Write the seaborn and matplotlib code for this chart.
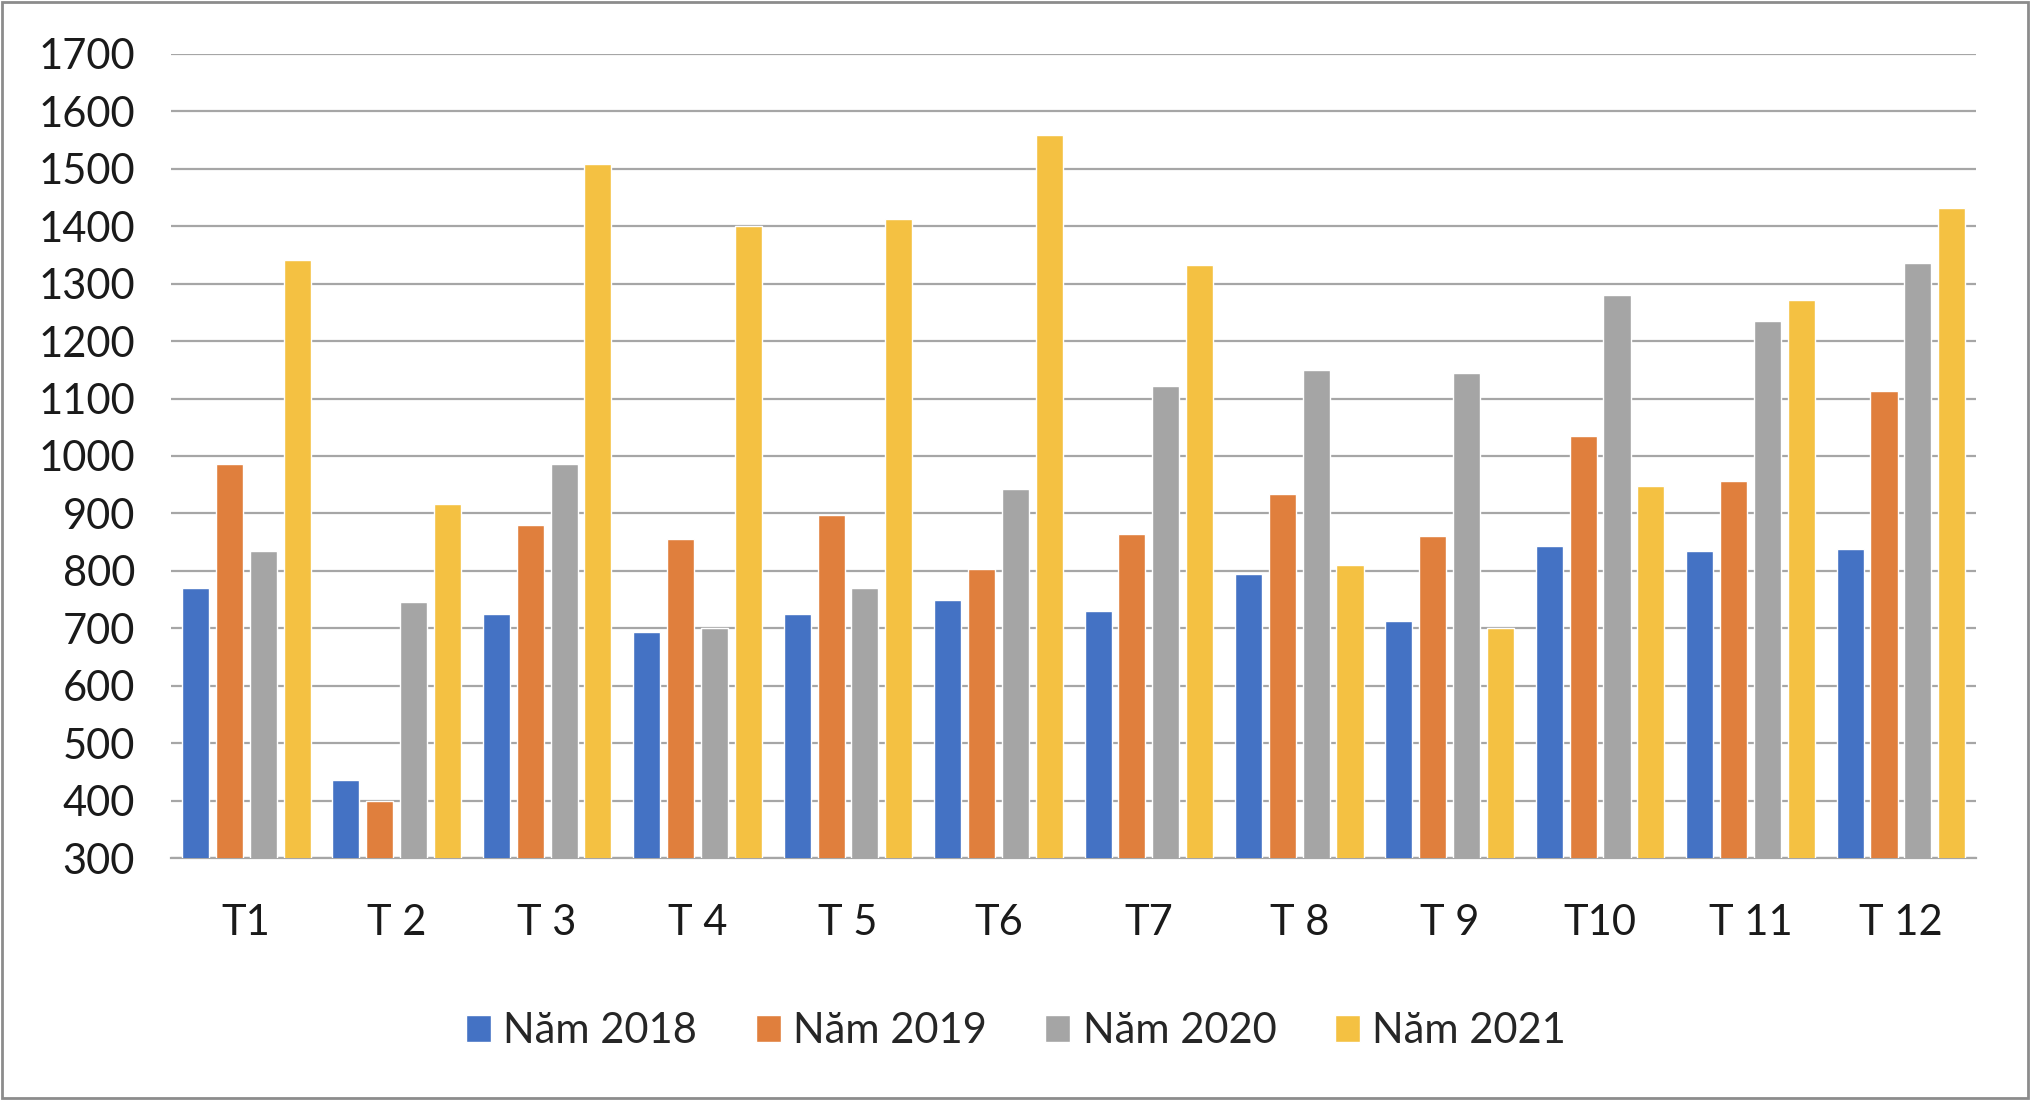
import matplotlib
matplotlib.use("Agg")
import matplotlib.pyplot as plt
import seaborn as sns
import pandas as pd
from matplotlib.patches import Rectangle

# Monthly values
months = ["T1", "T 2", "T 3", "T 4", "T 5", "T6", "T7", "T 8", "T 9", "T10", "T 11", "T 12"]
nam_2018 = [770, 435, 725, 693, 725, 750, 730, 795, 712, 843, 835, 838]
nam_2019 = [986, 400, 880, 856, 898, 803, 864, 934, 860, 1034, 957, 1113]
nam_2020 = [835, 745, 986, 700, 770, 943, 1122, 1149, 1145, 1280, 1235, 1336]
nam_2021 = [1341, 916, 1508, 1400, 1413, 1558, 1332, 810, 700, 948, 1271, 1431]
series_names = ["Năm 2018", "Năm 2019", "Năm 2020", "Năm 2021"]
colors = ["#4472C4", "#E07F3D", "#A5A5A5", "#F4C142"]

rows = []
for name, vals in zip(series_names, [nam_2018, nam_2019, nam_2020, nam_2021]):
    for m, v in zip(months, vals):
        rows.append({"month": m, "year": name, "value": v})
df = pd.DataFrame(rows)

sns.set_style("white")
plt.rcParams["font.family"] = ["Lato", "DejaVu Sans"]

fig = plt.figure(figsize=(20.32, 11.0), dpi=100)
ax = fig.add_axes([0.0842, 0.22, 0.8883, 0.731])

sns.barplot(data=df, x="month", y="value", hue="year", order=months,
            hue_order=series_names, palette=colors, width=0.9, gap=0.2,
            saturation=1, ax=ax, zorder=3)

ax.set_ylim(300, 1700)
ax.set_xlim(-0.5, len(months) - 0.5)
ax.set_yticks(range(300, 1701, 100))
ax.yaxis.grid(True, color="#A6A6A6", linewidth=1.6, zorder=0)
ax.set_axisbelow(True)
ax.set_xlabel("")
ax.set_ylabel("")
for side in ["top", "right", "left"]:
    ax.spines[side].set_visible(False)
ax.spines["bottom"].set_color("#A6A6A6")
ax.spines["bottom"].set_linewidth(1.6)
ax.tick_params(axis="both", length=0, labelsize=30, colors="#1a1a1a")
ax.tick_params(axis="y", pad=26)
ax.tick_params(axis="x", pad=33)

ax.legend(loc="upper center", bbox_to_anchor=(0.5, 0.114), bbox_transform=fig.transFigure,
          ncol=4, frameon=False, fontsize=30, handlelength=0.6, handleheight=0.6,
          handletextpad=0.3, columnspacing=1.4)

fig.patches.append(Rectangle((0.001, 0.002), 0.997, 0.996, transform=fig.transFigure,
                             fill=False, edgecolor="#8c8c8c", linewidth=2))

fig.savefig("out.png", dpi=100)
